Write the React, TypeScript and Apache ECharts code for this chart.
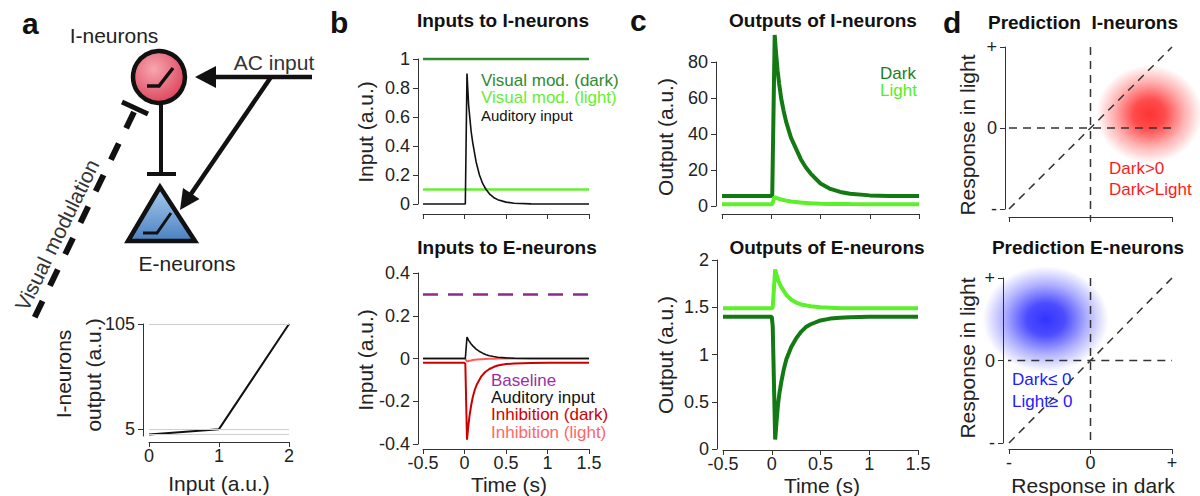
import React, { useEffect, useRef } from 'react';
import * as echarts from 'echarts';

// ---------- Panel a (I-neuron transfer function) ----------
const aInput = [0, 1, 2];
const aOutput = [0, 5, 105];
const aRefLines = [105, 5, 0];
const aYTicks = [5, 105];

// ---------- Panel b top: inputs to I-neurons ----------
const flatTime = [-0.5, 1.5];
const bVisDark = [1, 1];
const bVisLight = [0.1, 0.1];
const audTime = [-0.5, 0, 0.01, 0.03, 0.05, 0.08, 0.1, 0.14, 0.18, 0.22, 0.26, 0.3, 0.35, 0.4, 0.5, 0.6, 0.8, 1.0, 1.5];
const bAudI = [0, 0, 0, 0.9, 0.68, 0.5, 0.42, 0.29, 0.2, 0.14, 0.1, 0.07, 0.045, 0.03, 0.013, 0.005, 0.001, 0, 0];

// ---------- Panel b bottom: inputs to E-neurons ----------
const bBaseline = [0.3, 0.3];
const bAudE = [0, 0, 0, 0.1, 0.085, 0.068, 0.059, 0.044, 0.033, 0.025, 0.018, 0.013, 0.009, 0.006, 0.003, 0.001, 0, 0, 0];
const inhTime = [-0.5, 0, 0.01, 0.03, 0.045, 0.06, 0.08, 0.1, 0.125, 0.15, 0.2, 0.25, 0.3, 0.35, 0.4, 0.5, 0.6, 0.8, 1.0, 1.5];
const bInhDark = [-0.02, -0.02, -0.025, -0.38, -0.32, -0.27, -0.22, -0.18, -0.145, -0.12, -0.085, -0.063, -0.049, -0.04, -0.033, -0.026, -0.023, -0.021, -0.02, -0.02];
const bInhLight = [0, 0, -0.002, -0.014, -0.012, -0.011, -0.009, -0.007, -0.006, -0.005, -0.003, -0.002, -0.001, -0.001, 0, 0, 0, 0, 0, 0];

// ---------- Panel c: outputs ----------
const cTime = [-0.5, 0, 0.01, 0.035, 0.05, 0.065, 0.08, 0.1, 0.125, 0.15, 0.2, 0.25, 0.3, 0.35, 0.4, 0.5, 0.6, 0.7, 0.8, 1.0, 1.2, 1.5];
const cIDark = [5.5, 5.5, 6, 95, 84, 75, 68, 60, 53, 47, 38, 32, 26, 21.5, 18, 12.5, 9.5, 7.8, 6.8, 5.9, 5.6, 5.5];
const cILight = [1, 1, 1.1, 5, 4.6, 4.3, 4, 3.6, 3.3, 3, 2.5, 2.2, 1.9, 1.7, 1.5, 1.25, 1.15, 1.08, 1.05, 1.02, 1, 1];
const cELight = [1.49, 1.49, 1.5, 1.9, 1.84, 1.79, 1.75, 1.71, 1.67, 1.63, 1.58, 1.55, 1.53, 1.52, 1.51, 1.5, 1.495, 1.49, 1.49, 1.49, 1.49, 1.49];
const cEDark = [1.4, 1.4, 1.3, 0.1, 0.3, 0.48, 0.6, 0.72, 0.85, 0.95, 1.08, 1.17, 1.24, 1.29, 1.32, 1.36, 1.38, 1.39, 1.395, 1.4, 1.4, 1.4];

// ---------- Panel d: predictions ----------
const dIBlob = [0.72, 0.17];
const dEBlob = [-0.55, 0.5];
const dDiagX = [-1, 1];
const dDiagY = [-1, 1];
const dTopVertY = [1, -1.14];
const dTopHorizX = [-1, 1];
const dBotVertY = [1, -1.02];
const dBotHorizX = [-1.07, 1];

const FONT = '"Liberation Sans", Arial, Helvetica, sans-serif';
const AXIS_COLOR = '#333';
const LABEL_COLOR = '#222';

const zip = (xs: number[], ys: number[]) => xs.map((x, i) => [x, ys[i]]);

function xAx(gridIndex: number, min: number, max: number, interval: number, offset: number, showLabels: boolean, formatter?: any) {
  return {
    type: 'value', gridIndex, min, max, interval, offset, position: 'bottom',
    axisLine: { show: true, onZero: false, lineStyle: { color: AXIS_COLOR, width: 1 } },
    axisTick: { show: true, length: 5, lineStyle: { color: AXIS_COLOR } },
    axisLabel: { show: showLabels, fontSize: 18, color: LABEL_COLOR, fontFamily: FONT, margin: 5, formatter },
    splitLine: { show: false },
  };
}

function yAx(gridIndex: number, min: number, max: number, interval: number | undefined, offset: number, formatter?: any, custom?: number[]) {
  const ax: any = {
    type: 'value', gridIndex, min, max, offset, position: 'left',
    axisLine: { show: true, onZero: false, lineStyle: { color: AXIS_COLOR, width: 1 } },
    axisTick: { show: true, length: 5, lineStyle: { color: AXIS_COLOR } },
    axisLabel: { show: true, fontSize: 18, color: LABEL_COLOR, fontFamily: FONT, margin: 8, formatter },
    splitLine: { show: false },
  };
  if (interval !== undefined) ax.interval = interval;
  if (custom) {
    ax.axisTick.customValues = custom;
    ax.axisLabel.customValues = custom;
  }
  return ax;
}

function line(xi: number, data: number[][], color: string, width: number, type: any = 'solid', z = 3) {
  return {
    type: 'line', xAxisIndex: xi, yAxisIndex: xi, data, showSymbol: false, symbol: 'none',
    lineStyle: { color, width, type }, clip: false, silent: true, z, emphasis: { disabled: true },
  };
}

function txt(text: string, x: number, y: number, o: any = {}) {
  return {
    type: 'text', x, y, rotation: o.rotation || 0, silent: true,
    style: {
      text, fontSize: o.size || 17, fontFamily: FONT, fontWeight: o.bold ? 'bold' : 'normal',
      fill: o.color || '#222', align: o.align || 'left', verticalAlign: 'middle',
      textAlign: o.align || 'left', textVerticalAlign: 'middle',
    },
  };
}

const dFmt = (v: number) => (v < 0 ? '-' : v > 0 ? '+' : '0');

export default function App() {
  const ref = useRef<HTMLDivElement>(null);
  useEffect(() => {
    if (!ref.current) return;
    const chart = echarts.init(ref.current, undefined, { renderer: 'svg' });
    const blob = (r: number, g: number, b: number) =>
      new echarts.graphic.RadialGradient(0.5, 0.5, 0.5, [
        { offset: 0, color: `rgba(${r},${g},${b},1)` },
        { offset: 0.3, color: `rgba(${r},${g},${b},0.88)` },
        { offset: 0.65, color: `rgba(${r},${g},${b},0.4)` },
        { offset: 1, color: `rgba(${r},${g},${b},0)` },
      ]);
    const dash = [8, 6];
    const dashColor = '#333';
    const option: any = {
      animation: false,
      backgroundColor: '#ffffff',
      grid: [
        { left: 149, top: 324, width: 140, height: 112, outerBoundsMode: 'none' },
        { left: 423, top: 59, width: 166, height: 145, outerBoundsMode: 'none' },
        { left: 423, top: 273, width: 166, height: 171, outerBoundsMode: 'none' },
        { left: 722, top: 62, width: 197, height: 144, outerBoundsMode: 'none' },
        { left: 723, top: 260, width: 195, height: 189, outerBoundsMode: 'none' },
        { left: 1009, top: 47, width: 163, height: 162, outerBoundsMode: 'none' },
        { left: 1009, top: 278, width: 163, height: 165, outerBoundsMode: 'none' },
      ],
      xAxis: [
        xAx(0, 0, 2, 1, 6, true),
        xAx(1, -0.5, 1.5, 0.5, 10, false),
        xAx(2, -0.5, 1.5, 0.5, 5, true),
        xAx(3, -0.5, 1.5, 0.5, 8, false),
        xAx(4, -0.5, 1.5, 0.5, 1, true),
        xAx(5, -1, 1, 1, 8, false),
        xAx(6, -1, 1, 1, 6, true, dFmt),
      ],
      yAxis: [
        yAx(0, -1.5, 105, undefined, 6, undefined, aYTicks),
        yAx(1, 0, 1, 0.2, 5),
        yAx(2, -0.4, 0.4, 0.2, 5),
        yAx(3, 0, 80, 20, 6),
        yAx(4, 0, 2, 0.5, 6),
        yAx(5, -1, 1, 1, 4, dFmt),
        yAx(6, -1, 1, 1, 6, dFmt),
      ],
      series: [
        {
          ...line(0, zip(aInput, aOutput), '#111', 2),
          markLine: {
            silent: true, symbol: ['none', 'none'], label: { show: false },
            lineStyle: { color: '#cfcfcf', type: 'solid', width: 1 },
            data: aRefLines.map((v) => ({ yAxis: v })),
          },
        },
        line(1, zip(flatTime, bVisDark), '#2e8b2e', 2.5),
        line(1, zip(flatTime, bVisLight), '#66ee33', 2.5),
        line(1, zip(audTime, bAudI), '#111', 1.6),
        line(2, zip(flatTime, bBaseline), '#8e2a8e', 2.5, [15, 10]),
        line(2, zip(inhTime, bInhLight), '#ff5a5a', 2),
        line(2, zip(inhTime, bInhDark), '#cc0000', 2),
        line(2, zip(audTime, bAudE), '#111', 1.6),
        line(3, zip(cTime, cIDark), '#137a13', 4),
        line(3, zip(cTime, cILight), '#5cf02a', 4),
        line(4, zip(cTime, cELight), '#5cf02a', 4),
        line(4, zip(cTime, cEDark), '#137a13', 4),
        {
          type: 'scatter', xAxisIndex: 5, yAxisIndex: 5, data: [dIBlob], symbol: 'circle',
          symbolSize: [106, 98], itemStyle: { color: blob(255, 0, 0) }, silent: true, z: 1, clip: false,
          emphasis: { disabled: true },
        },
        line(5, [[0, dTopVertY[0]], [0, dTopVertY[1]]], dashColor, 1.5, dash),
        line(5, [[dTopHorizX[0], 0], [dTopHorizX[1], 0]], dashColor, 1.5, dash),
        line(5, zip(dDiagX, dDiagY), dashColor, 1.5, dash),
        {
          type: 'scatter', xAxisIndex: 6, yAxisIndex: 6, data: [dEBlob], symbol: 'circle',
          symbolSize: [126, 106], itemStyle: { color: blob(0, 0, 255) }, silent: true, z: 1, clip: false,
          emphasis: { disabled: true },
        },
        line(6, [[0, dBotVertY[0]], [0, dBotVertY[1]]], dashColor, 1.5, dash),
        line(6, [[dBotHorizX[0], 0], [dBotHorizX[1], 0]], dashColor, 1.5, dash),
        line(6, zip(dDiagX, dDiagY), dashColor, 1.5, dash),
      ],
      graphic: [
        // ---- panel a diagram ----
        {
          type: 'line', silent: true, shape: { x1: 134, y1: 112, x2: 30, y2: 327 },
          style: { stroke: '#111', lineWidth: 6, lineDash: [18, 17] },
        },
        { type: 'line', silent: true, shape: { x1: 122, y1: 102, x2: 148, y2: 114 }, style: { stroke: '#111', lineWidth: 5 } },
        { type: 'line', silent: true, shape: { x1: 161, y1: 103, x2: 161, y2: 174 }, style: { stroke: '#111', lineWidth: 4 } },
        { type: 'line', silent: true, shape: { x1: 147, y1: 174, x2: 176, y2: 174 }, style: { stroke: '#111', lineWidth: 4 } },
        { type: 'line', silent: true, shape: { x1: 312, y1: 77, x2: 212, y2: 77 }, style: { stroke: '#111', lineWidth: 4.5 } },
        { type: 'polygon', silent: true, shape: { points: [[195, 77], [216, 66], [216, 88]] }, style: { fill: '#111' } },
        { type: 'line', silent: true, shape: { x1: 271, y1: 77, x2: 191, y2: 194 }, style: { stroke: '#111', lineWidth: 4.5 } },
        { type: 'polygon', silent: true, shape: { points: [[180, 210], [199.5, 199], [183, 188]] }, style: { fill: '#111' } },
        {
          type: 'circle', silent: true, shape: { cx: 159, cy: 77, r: 26 },
          style: {
            fill: new echarts.graphic.RadialGradient(0.4, 0.35, 0.75, [
              { offset: 0, color: '#f8a6b0' },
              { offset: 1, color: '#d93a52' },
            ]),
            stroke: '#111', lineWidth: 4.5,
          },
        },
        { type: 'polyline', silent: true, shape: { points: [[147, 86], [159, 86], [173, 68]] }, style: { stroke: '#111', lineWidth: 3.5, fill: null } },
        {
          type: 'polygon', silent: true, shape: { points: [[160, 187], [128, 241], [195, 241]] },
          style: {
            fill: new echarts.graphic.LinearGradient(0, 0, 0, 1, [
              { offset: 0, color: '#a9cdf0' },
              { offset: 1, color: '#4a80c0' },
            ]),
            stroke: '#111', lineWidth: 4.5, lineJoin: 'miter',
          },
        },
        { type: 'polyline', silent: true, shape: { points: [[143, 233], [157, 233], [171, 213]] }, style: { stroke: '#111', lineWidth: 3, fill: null } },
        txt('I-neurons', 114, 35, { size: 21, align: 'center' }),
        txt('AC input', 274, 62, { size: 21, align: 'center', color: '#333' }),
        txt('E-neurons', 187, 263, { size: 21, align: 'center' }),
        txt('Visual modulation', 57, 235, { size: 21, align: 'center', rotation: (64 * Math.PI) / 180, color: '#333' }),
        // panel a bottom axis titles
        txt('I-neurons', 63, 374, { size: 21, align: 'center', rotation: Math.PI / 2 }),
        txt('output (a.u.)', 93, 375, { size: 21, align: 'center', rotation: Math.PI / 2 }),
        txt('Input (a.u.)', 219, 483, { size: 21, align: 'center' }),
        // ---- panel letters ----
        txt('a', 22, 23, { size: 30, bold: true, color: '#111' }),
        txt('b', 330, 22, { size: 30, bold: true, color: '#111' }),
        txt('c', 630, 20, { size: 30, bold: true, color: '#111' }),
        txt('d', 943, 22, { size: 30, bold: true, color: '#111' }),
        // ---- titles ----
        txt('Inputs to I-neurons', 503, 20, { size: 19, bold: true, align: 'center', color: '#111' }),
        txt('Inputs to E-neurons', 507, 247, { size: 19, bold: true, align: 'center', color: '#111' }),
        txt('Outputs of I-neurons', 823, 20, { size: 19, bold: true, align: 'center', color: '#111' }),
        txt('Outputs of E-neurons', 827, 247, { size: 19, bold: true, align: 'center', color: '#111' }),
        txt('Prediction  I-neurons', 1083, 22, { size: 19, bold: true, align: 'center', color: '#111' }),
        txt('Prediction E-neurons', 1088, 247, { size: 19, bold: true, align: 'center', color: '#111' }),
        // ---- axis titles ----
        txt('Input (a.u.)', 365, 132, { size: 21, align: 'center', rotation: Math.PI / 2 }),
        txt('Input (a.u.)', 365, 360, { size: 21, align: 'center', rotation: Math.PI / 2 }),
        txt('Time (s)', 509, 484, { size: 21, align: 'center' }),
        txt('Output (a.u.)', 665, 137, { size: 21, align: 'center', rotation: Math.PI / 2 }),
        txt('Output (a.u.)', 665, 355, { size: 21, align: 'center', rotation: Math.PI / 2 }),
        txt('Time (s)', 822, 485, { size: 21, align: 'center' }),
        txt('Response in light', 967, 135, { size: 21, align: 'center', rotation: Math.PI / 2 }),
        txt('Response in light', 967, 358, { size: 21, align: 'center', rotation: Math.PI / 2 }),
        txt('Response in dark', 1093, 485, { size: 21, align: 'center' }),
        // ---- legends ----
        txt('Visual mod. (dark)', 481, 80, { size: 17, color: '#2e8b2e' }),
        txt('Visual mod. (light)', 481, 97, { size: 17, color: '#66ee33' }),
        txt('Auditory input', 481, 115, { size: 15, color: '#111' }),
        txt('Baseline', 491, 380, { size: 17, color: '#9b30a0' }),
        txt('Auditory input', 491, 397, { size: 17, color: '#111' }),
        txt('Inhibition (dark)', 491, 414, { size: 17, color: '#d00000' }),
        txt('Inhibition (light)', 491, 432, { size: 17, color: '#ff6666' }),
        txt('Dark', 880, 73, { size: 17, color: '#1e7e1e' }),
        txt('Light', 880, 90, { size: 17, color: '#55ee22' }),
        txt('Dark>0', 1109, 168, { size: 17, color: '#ff1a1a' }),
        txt('Dark>Light', 1109, 189, { size: 17, color: '#ff1a1a' }),
        txt('Dark\u2264 0', 1012, 379, { size: 17, color: '#2020ff' }),
        txt('Light\u2265 0', 1012, 401, { size: 17, color: '#2020ff' }),
      ],
    };
    chart.setOption(option);
    return () => chart.dispose();
  }, []);
  return (
    <div
      ref={ref}
      style={{ position: 'absolute', left: 0, top: 0, width: 1200, height: 496, background: '#fff' }}
    />
  );
}
